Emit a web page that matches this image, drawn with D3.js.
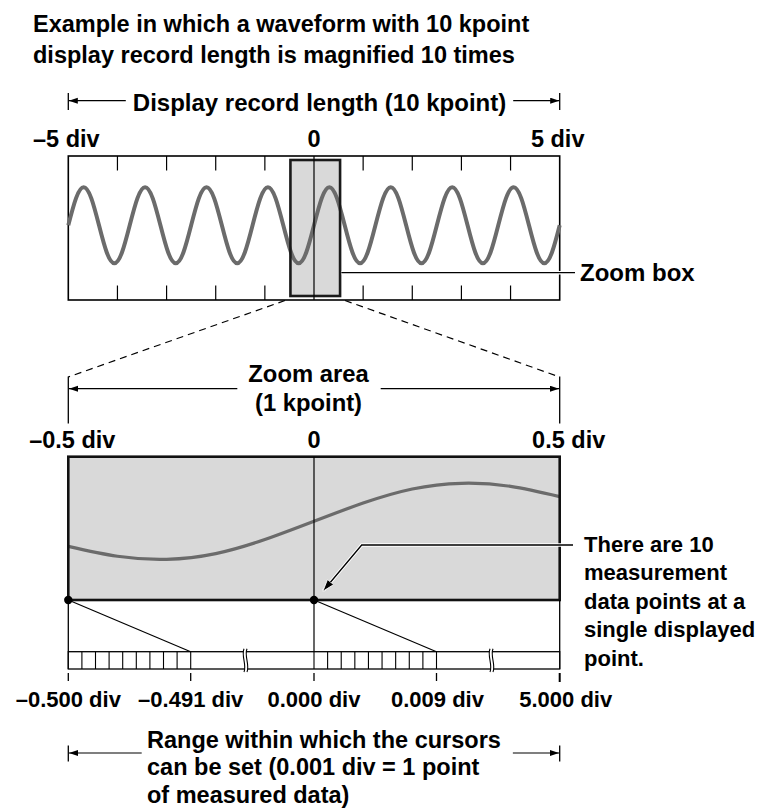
<!DOCTYPE html>
<html><head><meta charset="utf-8">
<script src="https://cdn.jsdelivr.net/npm/d3@7"></script>
<style>
html,body{margin:0;padding:0;background:#fff;}
text{font-family:"Liberation Sans",Arial,Helvetica,sans-serif;font-weight:bold;fill:#000;}
</style></head>
<body>
<script>
// ---------- data ----------
const titleLines = ["Example in which a waveform with 10 kpoint", "display record length is magnified 10 times"];
const displayLabel = "Display record length (10 kpoint)";
const topTickValues = [-4, -3, -2, -1, 1, 2, 3, 4];
const topLabelValues = [-5, 0, 5];
const topLabels = ["–5 div", "0", "5 div"];
// waveform samples (1/8 period spacing) across the 10 div display
const topWave = [
  0, 0.71, 1, 0.71, 0, -0.71, -1, -0.71,
  0, 0.71, 1, 0.71, 0, -0.71, -1, -0.71,
  0, 0.71, 1, 0.71, 0, -0.71, -1, -0.71,
  0, 0.71, 1, 0.71, 0, -0.71, -1, -0.71,
  0, 0.71, 1, 0.71, 0, -0.71, -1, -0.71,
  0, 0.71, 1, 0.71, 0, -0.71, -1, -0.71,
  0, 0.71, 1, 0.71, 0, -0.71, -1, -0.71,
  0, 0.71, 1, 0.71, 0, -0.71, -1, -0.71,
  0
];
const zoomRange = [-0.5, 0.5];
const zoomLabelValues = [-0.5, 0, 0.5];
const zoomLabels = ["–0.5 div", "0", "0.5 div"];
// magnified waveform samples at every 0.1 div from -0.5 to 0.5
const zoomWave = [-0.66, -0.92, -1.0, -0.85, -0.48, 0, 0.48, 0.85, 1.0, 0.92, 0.65];
const rulerValues = [-0.5, -0.491, 0, 0.009, 5];
const rulerLabels = ["–0.500 div", "–0.491 div", "0.000 div", "0.009 div", "5.000 div"];
const cellStep = 0.001;
const zoomAreaLines = ["Zoom area", "(1 kpoint)"];
const zoomBoxLabel = "Zoom box";
const noteLines = ["There are 10", "measurement", "data points at a", "single displayed", "point."];
const rangeLines = ["Range within which the cursors", "can be set (0.001 div = 1 point", "of measured data)"];

(function () {
// ---------- layout ----------
const W = 771, H = 808;
const L = 68.3, R = 559.7;
const tBox = {y0: 156, y1: 300};
const bot = {y0: 456.7, y1: 600};
const rul = {y0: 651.7, y1: 669};

const svg = d3.select("body").append("svg").attr("width", W).attr("height", H);
const defs = svg.append("defs");
defs.append("marker").attr("id", "arr").attr("markerUnits", "userSpaceOnUse")
  .attr("markerWidth", 10).attr("markerHeight", 7).attr("refX", 9).attr("refY", 3)
  .attr("orient", "auto")
  .append("path").attr("d", "M0,0 L9,3 L0,6 Z").attr("fill", "#000");
defs.append("marker").attr("id", "arr2").attr("markerUnits", "userSpaceOnUse")
  .attr("markerWidth", 14).attr("markerHeight", 10).attr("refX", 11).attr("refY", 4)
  .attr("orient", "auto")
  .append("path").attr("d", "M0,0 L12,4 L0,8 Z").attr("fill", "#000").attr("stroke", "#fff").attr("stroke-width", 0.8);

// scales
const xTop = d3.scaleLinear().domain([-5, 5]).range([L, R]);
const yTop = d3.scaleLinear().domain([-1, 1]).range([263.3, 187.3]);
const xTopIdx = d3.scaleLinear().domain([0, topWave.length - 1]).range([xTop(-5), xTop(5)]);
const xZoom = d3.scaleLinear().domain(zoomRange).range([L, R]);
const yZoom = d3.scaleLinear().domain([-1, 1]).range([559.3, 483.3]);
const xZoomIdx = d3.scaleLinear().domain([0, zoomWave.length - 1]).range([xZoom(-0.5), xZoom(0.5)]);
const xRul = d3.scaleLinear().domain(rulerValues).range([L, 190.7, 314, 436.5, R]);

// ---------- title ----------
svg.append("g").selectAll("text").data(titleLines).join("text")
  .attr("x", 33).attr("y", (d, i) => 32 + i * 30.5).attr("font-size", 23.5).text(d => d);

// ---------- display record length bracket ----------
(function () {
  const g = svg.append("g"), y = 100.7, cx = 319.5;
  const t = g.append("text").attr("x", cx).attr("y", 111).attr("text-anchor", "middle")
    .attr("font-size", 24).text(displayLabel);
  const w = t.node().getComputedTextLength();
  g.append("line").attr("x1", cx - w / 2 - 7).attr("x2", L + 0.5).attr("y1", y).attr("y2", y)
    .attr("stroke", "#000").attr("stroke-width", 1.2).attr("marker-end", "url(#arr)");
  g.append("line").attr("x1", cx + w / 2 + 7).attr("x2", R - 0.5).attr("y1", y).attr("y2", y)
    .attr("stroke", "#000").attr("stroke-width", 1.2).attr("marker-end", "url(#arr)");
  [L, R].forEach(x => g.append("line").attr("x1", x).attr("x2", x).attr("y1", 93).attr("y2", 110)
    .attr("stroke", "#000").attr("stroke-width", 1.3));
})();

// top labels
svg.append("g").selectAll("text").data(topLabelValues).join("text")
  .attr("x", (d, i) => xTop(d) + [-2, 0, -2][i]).attr("y", 147).attr("text-anchor", "middle")
  .attr("font-size", 23.5).text((d, i) => topLabels[i]);

// ---------- top display box ----------
const gTop = svg.append("g");
gTop.append("rect").attr("x", L).attr("y", tBox.y0).attr("width", R - L).attr("height", tBox.y1 - tBox.y0)
  .attr("fill", "#fff").attr("stroke", "#000").attr("stroke-width", 1.6);
gTop.selectAll("line.tt").data(topTickValues).join("line").attr("class", "tt")
  .attr("x1", d => xTop(d)).attr("x2", d => xTop(d)).attr("y1", tBox.y0).attr("y2", tBox.y0 + 14.5)
  .attr("stroke", "#000").attr("stroke-width", 1.2);
gTop.selectAll("line.tb").data(topTickValues).join("line").attr("class", "tb")
  .attr("x1", d => xTop(d)).attr("x2", d => xTop(d)).attr("y1", tBox.y1 - 14.5).attr("y2", tBox.y1)
  .attr("stroke", "#000").attr("stroke-width", 1.2);
// zoom box fill
const zx0 = xTop(zoomRange[0]) + 1, zx1 = xTop(zoomRange[1]) + 1.5;
gTop.append("rect").attr("x", zx0).attr("y", 160).attr("width", zx1 - zx0).attr("height", 136)
  .attr("fill", "#d9d9d9").attr("stroke", "none");
// waveform
const lineTop = d3.line().x((d, i) => xTopIdx(i)).y(d => yTop(d)).curve(d3.curveNatural);
gTop.append("path").datum(topWave).attr("d", lineTop).attr("fill", "none")
  .attr("stroke", "#6b6b6b").attr("stroke-width", 4);
// zoom box stroke
gTop.append("rect").attr("x", zx0).attr("y", 160).attr("width", zx1 - zx0).attr("height", 136)
  .attr("fill", "none").attr("stroke", "#1a1a1a").attr("stroke-width", 2.6);
// center line
gTop.append("line").attr("x1", xTop(0)).attr("x2", xTop(0)).attr("y1", tBox.y0).attr("y2", tBox.y1)
  .attr("stroke", "#000").attr("stroke-width", 1.2);
// zoom box leader
gTop.append("line").attr("x1", zx1 + 1.5).attr("x2", 575).attr("y1", 272.7).attr("y2", 272.7)
  .attr("stroke", "#fff").attr("stroke-width", 3.5);
gTop.append("line").attr("x1", zx1 + 1.3).attr("x2", 575).attr("y1", 272.7).attr("y2", 272.7)
  .attr("stroke", "#000").attr("stroke-width", 1.3);
svg.append("text").attr("x", 580).attr("y", 281).attr("font-size", 24).text(zoomBoxLabel);

// ---------- dashed projection lines ----------
svg.append("line").attr("x1", 285).attr("y1", 300.5).attr("x2", L).attr("y2", 377)
  .attr("stroke", "#000").attr("stroke-width", 1.2).attr("stroke-dasharray", "7,5");
svg.append("line").attr("x1", 345).attr("y1", 300.5).attr("x2", R).attr("y2", 377)
  .attr("stroke", "#000").attr("stroke-width", 1.2).attr("stroke-dasharray", "7,5");

// ---------- zoom area bracket ----------
const gZA = svg.append("g");
const zcx = 308.5;
const zt = gZA.selectAll("text").data(zoomAreaLines).join("text")
  .attr("x", zcx).attr("y", (d, i) => 382 + i * 28.5).attr("text-anchor", "middle")
  .attr("font-size", 23.8).text(d => d);
const zw = zt.nodes()[0].getComputedTextLength();
gZA.append("line").attr("x1", zcx - zw / 2 - 11).attr("x2", L + 0.7).attr("y1", 388.7).attr("y2", 388.7)
  .attr("stroke", "#000").attr("stroke-width", 1.2).attr("marker-end", "url(#arr)");
gZA.append("line").attr("x1", zcx + zw / 2 + 12).attr("x2", R - 0.7).attr("y1", 388.7).attr("y2", 388.7)
  .attr("stroke", "#000").attr("stroke-width", 1.2).attr("marker-end", "url(#arr)");
[L, R].forEach(x => gZA.append("line").attr("x1", x).attr("x2", x).attr("y1", 376.5).attr("y2", 423.5)
  .attr("stroke", "#000").attr("stroke-width", 1.3));

// zoom labels
svg.append("g").selectAll("text").data(zoomLabelValues).join("text")
  .attr("x", (d, i) => xZoom(d) + [4, 0, 9][i]).attr("y", 448).attr("text-anchor", "middle")
  .attr("font-size", 23.5).text((d, i) => zoomLabels[i]);

// ---------- zoom (bottom) box ----------
const gB = svg.append("g");
gB.append("rect").attr("x", L).attr("y", bot.y0).attr("width", R - L).attr("height", bot.y1 - bot.y0)
  .attr("fill", "#d9d9d9").attr("stroke", "none");
const lineZ = d3.line().x((d, i) => xZoomIdx(i)).y(d => yZoom(d)).curve(d3.curveNatural);
gB.append("path").datum(zoomWave).attr("d", lineZ).attr("fill", "none")
  .attr("stroke", "#6b6b6b").attr("stroke-width", 3.2);
gB.append("rect").attr("x", L).attr("y", bot.y0).attr("width", R - L).attr("height", bot.y1 - bot.y0)
  .attr("fill", "none").attr("stroke", "#111").attr("stroke-width", 2.6);
// center line through to ruler
gB.append("line").attr("x1", xZoom(0)).attr("x2", xZoom(0)).attr("y1", bot.y0).attr("y2", rul.y1)
  .attr("stroke", "#000").attr("stroke-width", 1.2);
// edges down to ruler
[L, R].forEach(x => gB.append("line").attr("x1", x).attr("x2", x).attr("y1", bot.y1).attr("y2", rul.y1)
  .attr("stroke", "#000").attr("stroke-width", 1.3));

// ---------- ruler ----------
const gR = svg.append("g");
gR.append("rect").attr("x", L).attr("y", rul.y0).attr("width", R - L).attr("height", rul.y1 - rul.y0)
  .attr("fill", "#fff").attr("stroke", "#000").attr("stroke-width", 1.3);
const cellsA = d3.range(1, 10).map(i => rulerValues[0] + i * cellStep);
const cellsB = d3.range(0, 10).map(i => rulerValues[2] + i * cellStep);
gR.selectAll("line.c").data(cellsA.concat(cellsB)).join("line").attr("class", "c")
  .attr("x1", d => xRul(d)).attr("x2", d => xRul(d)).attr("y1", rul.y0).attr("y2", rul.y1)
  .attr("stroke", "#000").attr("stroke-width", 1.1);
// diagonal expansion lines
[[0, 1], [2, 3]].forEach(([a, b]) => gR.append("line")
  .attr("x1", xRul(rulerValues[a])).attr("y1", bot.y1).attr("x2", xRul(rulerValues[b])).attr("y2", rul.y0)
  .attr("stroke", "#000").attr("stroke-width", 1.2));
// break marks
[244, 490].forEach(x => {
  const y0 = rul.y0 - 3, y1 = rul.y1 + 3;
  const s = (dx) => `M${x + dx},${y0} C${x + dx - 3},${y0 + 7} ${x + dx + 3},${y1 - 7} ${x + dx},${y1}`;
  gR.append("path").attr("d", `M${x},${y0} C${x - 3},${y0 + 7} ${x + 3},${y1 - 7} ${x},${y1} L${x + 3},${y1} C${x + 6},${y1 - 7} ${x},${y0 + 7} ${x + 3},${y0} Z`)
    .attr("fill", "#fff").attr("stroke", "none");
  gR.append("path").attr("d", s(0)).attr("fill", "none").attr("stroke", "#000").attr("stroke-width", 1.1);
  gR.append("path").attr("d", s(3)).attr("fill", "none").attr("stroke", "#000").attr("stroke-width", 1.1);
});
// ticks & labels
gR.selectAll("line.t").data(rulerValues).join("line").attr("class", "t")
  .attr("x1", d => xRul(d)).attr("x2", d => xRul(d)).attr("y1", 673).attr("y2", (d, i) => i === 4 ? 682 : 681)
  .attr("stroke", "#000").attr("stroke-width", (d, i) => i === 4 ? 2 : 1.3);
gR.selectAll("text").data(rulerValues).join("text")
  .attr("x", (d, i) => xRul(d) + [0, 0, 0, 1, 6][i]).attr("y", 707).attr("text-anchor", "middle")
  .attr("font-size", 22).text((d, i) => rulerLabels[i]);

// dots
svg.append("g").selectAll("circle").data([rulerValues[0], rulerValues[2]]).join("circle")
  .attr("cx", d => xZoom(d)).attr("cy", bot.y1).attr("r", 4.2).attr("fill", "#000");

// ---------- note leader with arrow ----------
const leader = `M573,545 L361.7,545 L323.5,590.5`;
svg.append("path").attr("d", leader).attr("fill", "none").attr("stroke", "#fff").attr("stroke-width", 3.4);
svg.append("path").attr("d", leader).attr("fill", "none").attr("stroke", "#000").attr("stroke-width", 1.3)
  .attr("marker-end", "url(#arr2)");
svg.append("g").selectAll("text").data(noteLines).join("text")
  .attr("x", 584).attr("y", (d, i) => 551.7 + i * 28.5).attr("font-size", 22).text(d => d);

// ---------- range bracket ----------
const gRange = svg.append("g");
gRange.selectAll("text").data(rangeLines).join("text")
  .attr("x", 147).attr("y", (d, i) => 747.5 + i * 27.5).attr("font-size", 23.5).text(d => d);
const rw = gRange.select("text").node().getComputedTextLength();
gRange.append("line").attr("x1", 141.7).attr("x2", L + 0.7).attr("y1", 753).attr("y2", 753)
  .attr("stroke", "#000").attr("stroke-width", 1.2).attr("marker-end", "url(#arr)");
gRange.append("line").attr("x1", 147 + rw + 12).attr("x2", R - 0.7).attr("y1", 753).attr("y2", 753)
  .attr("stroke", "#000").attr("stroke-width", 1.2).attr("marker-end", "url(#arr)");
[L, R].forEach(x => gRange.append("line").attr("x1", x).attr("x2", x).attr("y1", 745.5).attr("y2", 761.5)
  .attr("stroke", "#000").attr("stroke-width", 1.3));
})();
</script>
</body></html>
